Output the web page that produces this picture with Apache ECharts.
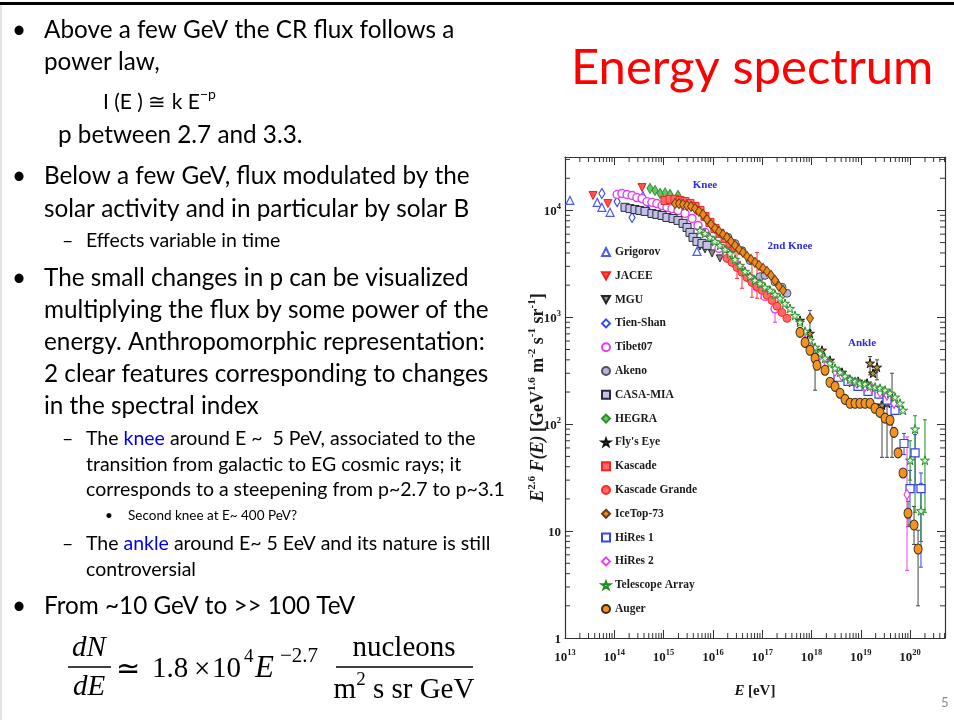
<!DOCTYPE html>
<html>
<head>
<meta charset="utf-8">
<script src="https://cdn.jsdelivr.net/npm/echarts/dist/echarts.min.js"></script>
<style>
html,body{margin:0;padding:0;background:#fff;}
#main{width:954px;height:720px;}
</style>
</head>
<body>
<div id="main"></div>
<script>
// Axis extents of the all-particle spectrum panel
const X_MIN = 1e13, X_MAX = 5.1e20, Y_MIN = 1, Y_MAX = 31623;

// E [eV], E^2.6 F(E)
const grigorov = [[1.26e13,1.24e4],[4.5e13,1.19e4],[5.6e13,1.07e4],[8.2e13,9.6e3],[3.8e14,1.38e4],[1.17e15,1.29e4],[4.75e15,4.14e3]];
const jacee = [[3.7e13,1.38e4],[7.4e13,1.16e4],[3.65e14,1.64e4]];
const mgu = [[5.47e15,4.6e3],[6.9e15,4.33e3],[9.6e15,3.96e3],[1.39e16,3.56e3]];
const tienShan = [[5.6e13,1.44e4],[1.14e14,1.21e4],[2.29e14,8.6e3],[4.8e14,1.0e4]];
const tibet07 = [[1.14e14,1.41e4],[1.43e14,1.44e4],[1.81e14,1.41e4],[2.29e14,1.38e4],[2.88e14,1.32e4],[3.65e14,1.29e4],[4.6e14,1.21e4],[5.8e14,1.19e4],[7.3e14,1.16e4],[9.3e14,1.11e4],[1.17e15,1.07e4],[1.48e15,1.04e4],[1.96e15,1.0e4],[2.72e15,9.38e3],[3.77e15,8.42e3],[4.99e15,7.24e3],[6.9e15,6.23e3],[9.6e15,5.25e3],[1.33e16,4.42e3],[1.93e16,3.8e3],[2.81e16,3.2e3],[3.89e16,2.75e3],[5.66e16,2.31e3],[7.85e16,1.91e3],[1.14e17,1.57e3],[1.82e17,1.2e3]];
const akeno = [[2.02e16,5.6e3],[2.81e16,4.9e3],[3.89e16,4.2e3],[5.66e16,3.4e3],[9.0e16,2.4e3],[1.14e17,2.47e3],[1.82e17,2.15e3],[2.52e17,1.91e3],[3.18e17,1.68e3]];
const casaMia = [[1.65e14,1.07e4],[2.08e14,1.04e4],[2.63e14,1.02e4],[3.3e14,1.0e4],[4.2e14,9.8e3],[5.8e14,9.38e3],[7.3e14,9.18e3],[9.3e14,8.98e3],[1.17e15,8.6e3],[1.55e15,8.42e3],[1.96e15,8.07e3],[2.48e15,7.57e3],[2.99e15,6.93e3],[3.43e15,6.23e3],[3.95e15,5.6e3],[4.75e15,5.13e3],[6.0e15,4.92e3],[7.6e15,4.71e3]];
const hegra = [[5.3e14,1.61e4],[6.7e14,1.54e4],[8.5e14,1.44e4],[1.07e15,1.46e4],[1.35e15,1.41e4],[1.96e15,1.38e4]];
const flysEye = [[5.84e17,937],[9.3e17,708],[1.63e18,492],[2.37e18,396],[4.16e18,306],[6.64e18,247],[8.8e18,252],[1.34e19,242],[1.54e19,372],[1.77e19,300],[2.13e19,341],[2.69e19,151],[3.4e19,157],[4.3e19,175]];
const kascade = [[1.07e15,1.24e4],[1.35e15,1.27e4],[1.7e15,1.27e4],[2.15e15,1.24e4],[2.72e15,1.21e4],[3.43e15,1.16e4],[4.34e15,1.09e4],[5.47e15,1.0e4],[6.9e15,8.79e3],[8.7e15,7.73e3],[1.1e16,6.79e3],[1.39e16,6.1e3],[1.76e16,5.47e3],[2.22e16,4.92e3],[2.81e16,4.51e3]];
const kascadeGrande = [[1.93e16,3.56e3],[2.44e16,3.27e3],[3.08e16,2.93e3],[3.89e16,2.64e3],[4.92e16,2.36e3],[6.2e16,2.12e3],[7.85e16,1.95e3],[9.9e16,1.79e3],[1.25e17,1.61e3],[1.58e17,1.44e3],[2.0e17,1.27e3],[2.52e17,1.11e3],[3.18e17,979]];
const iceTop73 = [[1.7e15,1.16e4],[2.05e15,1.16e4],[2.48e15,1.14e4],[2.99e15,1.11e4],[3.6e15,1.09e4],[4.34e15,1.04e4],[5.22e15,9.79e3],[6.3e15,9.18e3],[7.59e15,8.24e3],[9.15e15,7.4e3],[1.1e16,6.79e3],[1.33e16,6.37e3],[1.6e16,5.97e3],[1.93e16,5.6e3],[2.33e16,5.13e3],[2.81e16,4.71e3],[3.38e16,4.32e3],[4.08e16,4.05e3],[4.92e16,3.72e3],[5.93e16,3.48e3],[7.14e16,3.27e3],[8.61e16,3.06e3],[1.04e17,2.87e3],[1.25e17,2.69e3],[1.51e17,2.47e3],[1.82e17,2.22e3],[2.19e17,1.95e3],[2.64e17,1.79e3],[9.3e17,979]];
const hiRes1 = [[3.45e18,275],[5.5e18,252],[8.8e18,226],[1.4e19,203],[2.34e19,191],[3.4e19,168],[4.94e19,135],[7.52e19,66],[9.95e19,25],[1.26e20,54],[1.66e20,25]];
const hiRes2 = [[7.4e17,609],[1.02e18,524],[1.49e18,441],[2.06e18,372],[3.0e18,313],[4.16e18,281],[6.04e18,258],[8.37e18,242],[1.22e19,226],[1.69e19,217],[2.45e19,199],[3.4e19,187],[4.71e19,157],[8.65e19,22]];
const telescopeArray = [[5.47e15,6.5e3],[6.9e15,6.1e3],[8.7e15,5.6e3],[1.1e16,5.13e3],[1.39e16,4.71e3],[1.76e16,4.32e3],[2.22e16,3.96e3],[2.81e16,3.48e3],[3.55e16,3.06e3],[4.48e16,2.69e3],[5.66e16,2.42e3],[7.1e16,2.22e3],[9.0e16,2.08e3],[1.14e17,1.91e3],[1.44e17,1.79e3],[1.82e17,1.64e3],[2.3e17,1.51e3],[2.9e17,1.35e3],[3.66e17,1.21e3],[4.62e17,1.04e3],[5.84e17,898],[7.4e17,740],[9.3e17,609],[1.18e18,524],[1.49e18,461],[1.88e18,414],[2.37e18,372],[3.0e18,334],[3.79e18,306],[4.79e18,281],[6.04e18,263],[7.63e18,252],[9.6e18,242],[1.22e19,237],[1.54e19,226],[1.94e19,222],[2.45e19,217],[3.1e19,208],[3.91e19,195],[4.94e19,179],[6.24e19,157],[7.18e19,135],[1.0e20,46],[1.26e20,90],[1.66e20,15.5],[2.0e20,46]];
const auger = [[5.84e17,724],[7.4e17,583],[9.3e17,492],[1.18e18,414],[1.29e18,356],[1.88e18,320],[2.37e18,247],[3.0e18,226],[3.79e18,195],[4.79e18,171],[6.04e18,157],[7.63e18,157],[9.6e18,157],[1.22e19,157],[1.54e19,157],[1.94e19,141],[2.45e19,129],[3.1e19,114],[3.91e19,109],[4.71e19,84],[5.69e19,54],[7.18e19,35],[9.06e19,14.7],[1.2e20,11.4],[1.45e20,6.8]];

// Error bars: [E, low, high]
const tibetErr = [[1.82e17,900,1.68e3]];
const kascadeErr = [[2.22e16,4.3e3,5.6e3],[2.81e16,3.41e3,5.02e3]];
const kascadeGrandeErr = [[3.08e16,2.31e3,4.71e3],[3.89e16,1.87e3,2.75e3],[6.2e16,1.54e3,3.27e3],[7.85e16,1.51e3,4.05e3],[9.9e16,1.51e3,2.75e3]];
const iceTopErr = [[9.3e17,756,1.16e3]];
const flysEyeErr = [[1.54e19,290,430],[2.13e19,260,400],[2.69e19,49,161],[3.4e19,49,168],[4.3e19,49,300]];
const augerErr = [[1.18e18,208,524],[9.06e19,11,19],[1.2e20,7.5,17],[1.45e20,2.0,10.2]];
const hiRes1Err = [[7.52e19,52,82],[9.95e19,11.4,37],[1.26e20,27,80],[1.66e20,4.6,35]];
const hiRes2Err = [[8.65e19,4.3,76]];
const taErr = [[1.0e20,30,70],[1.26e20,15,120],[1.66e20,8,28],[2.0e20,15,110]];

// Knee / 2nd knee / ankle annotations
const annotations = [
  {text:'Knee', x:705, y:185},
  {text:'2nd Knee', x:790, y:246},
  {text:'Ankle', x:862, y:343}
];

const SERIF = '"Liberation Serif", "Times New Roman", serif';
const SANS = 'Lato, "Open Sans", sans-serif';
const DOWN_TRI = 'path://M0,0L10,0L5,9Z';
const STAR = 'path://M5,0L6.18,3.45L10,3.45L6.9,5.6L8.09,9.05L5,6.9L1.91,9.05L3.1,5.6L0,3.45L3.82,3.45Z';

const markerStyles = [
  {name:'Grigorov', data:grigorov, symbol:'triangle', size:8, fill:'#ffffff', stroke:'#4a5cf2', bw:1.2},
  {name:'JACEE', data:jacee, symbol:DOWN_TRI, size:8, fill:'#ff5050', stroke:'#ff1a1a', bw:1},
  {name:'MGU', data:mgu, symbol:DOWN_TRI, size:7, fill:'#8a8a8a', stroke:'#222222', bw:1},
  {name:'Tien-Shan', data:tienShan, symbol:'diamond', size:[6,10], fill:'#ffffff', stroke:'#3548f0', bw:1.2},
  {name:'Tibet07', data:tibet07, symbol:'circle', size:8, fill:'#ffffff', stroke:'#e23ef0', bw:1.4},
  {name:'Akeno', data:akeno, symbol:'circle', size:8, fill:'#b6b6d8', stroke:'#505060', bw:1},
  {name:'CASA-MIA', data:casaMia, symbol:'rect', size:8, fill:'#c2c2e6', stroke:'#2a2a3a', bw:1},
  {name:'HEGRA', data:hegra, symbol:'diamond', size:[6,10], fill:'#6cc26c', stroke:'#2a8f2a', bw:1},
  {name:"Fly's Eye", data:flysEye, symbol:STAR, size:9, fill:'#c09028', stroke:'#111111', bw:1},
  {name:'Kascade', data:kascade, symbol:'rect', size:8, fill:'#ff6a6a', stroke:'#ff2020', bw:1},
  {name:'Kascade Grande', data:kascadeGrande, symbol:'circle', size:8, fill:'#ff6a6a', stroke:'#ff2828', bw:1},
  {name:'IceTop-73', data:iceTop73, symbol:'diamond', size:[7,10], fill:'#ec8a1e', stroke:'#6b3c10', bw:1},
  {name:'HiRes 1', data:hiRes1, symbol:'rect', size:8, fill:'#ffffff', stroke:'#3442f2', bw:1.2},
  {name:'HiRes 2', data:hiRes2, symbol:'diamond', size:[6,10], fill:'#ffffff', stroke:'#ee3cee', bw:1.2},
  {name:'Telescope Array', data:telescopeArray, symbol:STAR, size:9, fill:'#d8f0d8', stroke:'#1f8f1f', bw:1},
  {name:'Auger', data:auger, symbol:'circle', size:[8,10], fill:'#f39422', stroke:'#3a2a18', bw:1}
];

const errorStyles = [
  {data:tibetErr, color:'#e23ef0'},
  {data:kascadeErr, color:'#ff3030'},
  {data:kascadeGrandeErr, color:'#ff3030'},
  {data:iceTopErr, color:'#555555'},
  {data:flysEyeErr, color:'#444444'},
  {data:augerErr, color:'#444444'},
  {data:hiRes1Err, color:'#3442f2'},
  {data:hiRes2Err, color:'#ee3cee'},
  {data:taErr, color:'#1f8f1f'}
];

function errorSeries(d, i) {
  return {
    type:'custom', name:'err' + i, data:d.data, silent:true, z:2,
    encode:{x:0, y:[1,2]},
    renderItem:function(params, api){
      const x = api.value(0);
      const a = api.coord([x, api.value(1)]);
      const b = api.coord([x, api.value(2)]);
      const st = {stroke:d.color, lineWidth:1};
      return {type:'group', children:[
        {type:'line', shape:{x1:a[0], y1:a[1], x2:b[0], y2:b[1]}, style:st},
        {type:'line', shape:{x1:a[0]-2, y1:a[1], x2:a[0]+2, y2:a[1]}, style:st},
        {type:'line', shape:{x1:b[0]-2, y1:b[1], x2:b[0]+2, y2:b[1]}, style:st}
      ]};
    }
  };
}

// Minor log ticks (2..9 x 10^n) on all four sides of the frame
const minorX = [];
for (let e = 13; e <= 20; e++) for (let m = 2; m <= 9; m++) { const v = m * Math.pow(10, e); if (v < X_MAX) minorX.push([v, Y_MIN]); }
const minorY = [];
for (let e = 0; e <= 4; e++) for (let m = 2; m <= 9; m++) { const v = m * Math.pow(10, e); if (v < Y_MAX) minorY.push([X_MIN, v]); }

function minorTickSeries(data, horizontal) {
  return {
    type:'custom', name: horizontal ? 'minorX' : 'minorY', data:data, silent:true, z:5,
    renderItem:function(params, api){
      const st = {stroke:'#333', lineWidth:1};
      if (horizontal) {
        const v = api.value(0);
        const a = api.coord([v, Y_MIN]), b = api.coord([v, Y_MAX]);
        return {type:'group', children:[
          {type:'line', shape:{x1:a[0], y1:a[1], x2:a[0], y2:a[1]-5}, style:st},
          {type:'line', shape:{x1:b[0], y1:b[1], x2:b[0], y2:b[1]+5}, style:st}
        ]};
      }
      const v = api.value(1);
      const a = api.coord([X_MIN, v]), b = api.coord([X_MAX, v]);
      return {type:'group', children:[
        {type:'line', shape:{x1:a[0], y1:a[1], x2:a[0]+5, y2:a[1]}, style:st},
        {type:'line', shape:{x1:b[0], y1:b[1], x2:b[0]-5, y2:b[1]}, style:st}
      ]};
    }
  };
}

function powLabel(v, plainSmall) {
  const l = Math.log10(v), e = Math.round(l);
  if (Math.abs(l - e) > 1e-6) return '';
  if (plainSmall && e === 0) return '{b|1}';
  if (plainSmall && e === 1) return '{b|10}';
  return '{b|10}{s|' + e + '}';
}
const labelRich = {
  b:{fontFamily:SERIF, fontSize:13, fontWeight:'bold', color:'#1a1a1a', lineHeight:16, verticalAlign:'bottom'},
  s:{fontFamily:SERIF, fontSize:8.5, fontWeight:'bold', color:'#1a1a1a', lineHeight:16, verticalAlign:'top'}
};
const nameRich = {
  i:{fontFamily:SERIF, fontSize:18, fontWeight:'bold', fontStyle:'italic', color:'#1a1a1a', lineHeight:20, verticalAlign:'bottom'},
  b:{fontFamily:SERIF, fontSize:18, fontWeight:'bold', color:'#1a1a1a', lineHeight:20, verticalAlign:'bottom'},
  s:{fontFamily:SERIF, fontSize:11, fontWeight:'bold', color:'#1a1a1a', lineHeight:20, verticalAlign:'top'}
};

const axisCommon = {
  type:'log', logBase:10,
  axisLine:{show:true, lineStyle:{color:'#333', width:1.2}},
  axisTick:{show:true, inside:true, length:8, lineStyle:{color:'#333', width:1}},
  splitLine:{show:false}, minorTick:{show:false}, minorSplitLine:{show:false}
};

// Slide text (left column)
function T(x, y, text, size, extra) {
  return {type:'text', x:x, y:y, silent:true,
    style:Object.assign({text:text, fontFamily:SANS, fontSize:size, fill:'#000', verticalAlign:'middle', align:'left'}, extra || {})};
}
const BIG = 24.3, MID = 19.5, SMALL = 13.5;
const blue = {k:{fill:'#0000ee', fontFamily:SANS, fontSize:MID}};
const slideText = [
  T(12, 30, '•', BIG), T(44, 30, 'Above a few GeV the CR flux follows a', BIG),
  T(44, 62, 'power law,', BIG),
  T(103, 100, '{t|I (E ) ≅ k E}{s|−p}', BIG, {rich:{t:{fontFamily:SANS, fontSize:21, lineHeight:25, verticalAlign:'bottom'}, s:{fontFamily:SANS, fontSize:14, lineHeight:25, verticalAlign:'top'}}}),
  T(58, 135, 'p between 2.7 and 3.3.', BIG),
  T(12, 176, '•', BIG), T(44, 176, 'Below a few GeV, flux modulated by the', BIG),
  T(44, 209, 'solar activity and in particular by solar B', BIG),
  T(62, 241, '–', MID), T(86, 241, 'Effects variable in time', MID),
  T(12, 278, '•', BIG), T(44, 278, 'The small changes in p can be visualized', BIG),
  T(44, 310, 'multiplying the flux by some power of the', BIG),
  T(44, 342, 'energy. Anthropomorphic representation:', BIG),
  T(44, 374, '2 clear features corresponding to changes', BIG),
  T(44, 406, 'in the spectral index', BIG),
  T(62, 439, '–', MID), T(86, 439, 'The {k|knee} around E ~  5 PeV, associated to the', MID, {rich:blue}),
  T(86, 465, 'transition from galactic to EG cosmic rays; it', MID),
  T(86, 490, 'corresponds to a steepening from p~2.7 to p~3.1', MID),
  T(105, 516, '•', SMALL), T(128, 516, 'Second knee at E~ 400 PeV?', SMALL),
  T(62, 544, '–', MID), T(86, 544, 'The {k|ankle} around E~ 5 EeV and its nature is still', MID, {rich:blue}),
  T(86, 570, 'controversial', MID),
  T(12, 606, '•', BIG), T(44, 606, 'From ~10 GeV to >> 100 TeV', BIG)
];

// dN/dE formula
const EQ = 29;
const eqFont = {fontFamily:SERIF};
const eqItalic = {fontFamily:SERIF, fontStyle:'italic'};
const formula = [
  T(89, 648, 'dN', EQ, Object.assign({align:'center'}, eqItalic)),
  {type:'line', silent:true, shape:{x1:68, y1:667, x2:111, y2:667}, style:{stroke:'#000', lineWidth:1.3}},
  T(89, 687, 'dE', EQ, Object.assign({align:'center'}, eqItalic)),
  T(116, 670, '≃', EQ, eqFont),
  T(152, 669, '1.8', EQ, eqFont),
  T(194, 670, '×', EQ, eqFont),
  T(212, 669, '10', EQ, eqFont),
  T(244, 657, '4', 19, eqFont),
  T(255, 669, 'E', 31, eqItalic),
  T(280, 656, '−2.7', 21, eqFont),
  T(404, 648, 'nucleons', EQ, Object.assign({align:'center'}, eqFont)),
  {type:'line', silent:true, shape:{x1:336, y1:667, x2:473, y2:667}, style:{stroke:'#000', lineWidth:1.3}},
  T(404, 688, '{n|m}{s|2}{n| s sr GeV}', EQ, {align:'center', rich:{
    n:{fontFamily:SERIF, fontSize:EQ, lineHeight:34, verticalAlign:'bottom'},
    s:{fontFamily:SERIF, fontSize:19, lineHeight:34, verticalAlign:'top'}}})
];

const chartNotes = annotations.map(a => T(a.x, a.y, a.text, 11, {align:'center', fill:'#2b2be6', fontFamily:SERIF, fontWeight:'bold'}));

const chart = echarts.init(document.getElementById('main'), null, {renderer:'canvas'});
chart.setOption({
  animation:false,
  backgroundColor:'#ffffff',
  grid:{left:565, right:9, top:157, bottom:82, containLabel:false, outerBoundsMode:'none'},
  xAxis:[
    Object.assign({}, axisCommon, {
      position:'bottom', min:X_MIN, max:X_MAX,
      axisLabel:{show:true, margin:10, formatter:v => powLabel(v, false), rich:labelRich},
      name:'{i|E} {b|[eV]}', nameLocation:'middle', nameGap:41, nameMoveOverlap:false,
      nameTextStyle:{rich:{i:Object.assign({}, nameRich.i, {fontSize:15}), b:Object.assign({}, nameRich.b, {fontSize:15})}}
    }),
    Object.assign({}, axisCommon, {position:'top', min:X_MIN, max:X_MAX, axisLabel:{show:false}})
  ],
  yAxis:[
    Object.assign({}, axisCommon, {
      position:'left', min:Y_MIN, max:Y_MAX,
      axisLabel:{show:true, margin:4, formatter:v => powLabel(v, true), rich:labelRich},
      name:'{i|E}{s|2.6}{i| F(E)} {b|[GeV}{s|1.6}{b| m}{s|-2}{b| s}{s|-1}{b| sr}{s|-1}{b|]}',
      nameLocation:'middle', nameRotate:90, nameGap:18, nameMoveOverlap:false,
      nameTextStyle:{rich:nameRich}
    }),
    Object.assign({}, axisCommon, {position:'right', min:Y_MIN, max:Y_MAX, axisLabel:{show:false}})
  ],
  legend:{
    show:true, orient:'vertical', left:596, top:241,
    itemWidth:8, itemHeight:8, itemGap:11.8,
    data:markerStyles.map(s => s.name),
    textStyle:{fontFamily:SERIF, fontSize:11.5, fontWeight:'bold', color:'#1a1a1a', lineHeight:10},
    selectedMode:false
  },
  series:[].concat(
    errorStyles.map(errorSeries),
    markerStyles.map(s => ({
      type:'scatter', name:s.name, data:s.data, symbol:s.symbol, symbolSize:s.size,
      itemStyle:{color:s.fill, borderColor:s.stroke, borderWidth:s.bw, opacity:1},
      emphasis:{disabled:true}, silent:true, z:3
    })),
    [minorTickSeries(minorX, true), minorTickSeries(minorY, false)]
  ),
  graphic:{elements:[
    {type:'rect', silent:true, shape:{x:0, y:2, width:954, height:3}, style:{fill:'#000'}},
    {type:'rect', silent:true, shape:{x:0, y:5, width:2, height:715}, style:{fill:'#e4e4e4'}},
    T(571, 68, 'Energy spectrum', 49, {fill:'#ff0000'}),
    T(941, 703, '5', 13, {fill:'#8c8c8c'})
  ].concat(slideText, formula, chartNotes)}
});
</script>
</body>
</html>
